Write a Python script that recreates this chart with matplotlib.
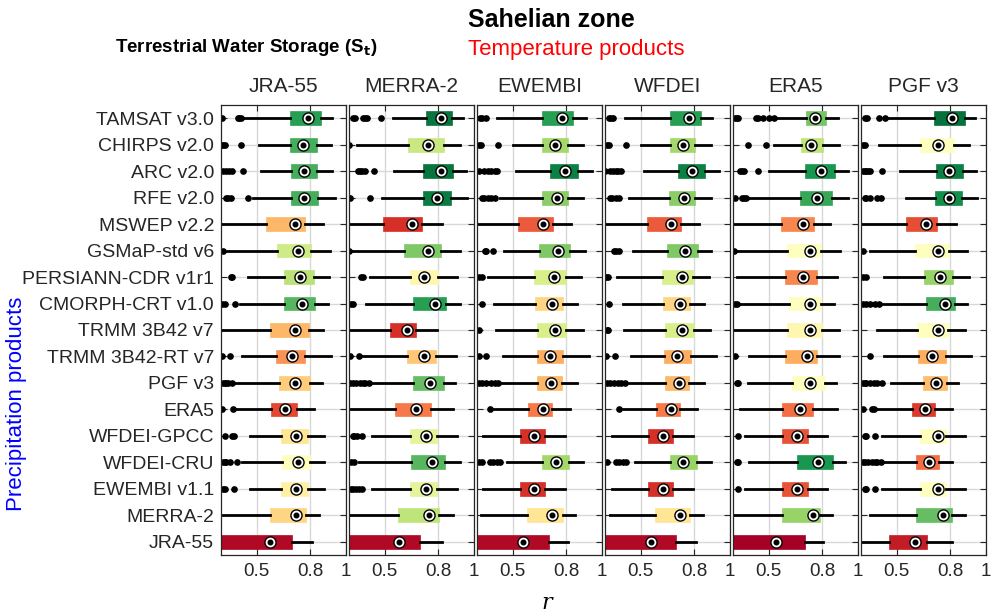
import numpy as np
import matplotlib
matplotlib.use('Agg')
import matplotlib.pyplot as plt

plt.rcParams['font.family'] = ['Liberation Sans', 'DejaVu Sans']

products = ['TAMSAT v3.0', 'CHIRPS v2.0', 'ARC v2.0', 'RFE v2.0', 'MSWEP v2.2',
            'GSMaP-std v6', 'PERSIANN-CDR v1r1', 'CMORPH-CRT v1.0', 'TRMM 3B42 v7',
            'TRMM 3B42-RT v7', 'PGF v3', 'ERA5', 'WFDEI-GPCC', 'WFDEI-CRU',
            'EWEMBI v1.1', 'MERRA-2', 'JRA-55']
temp_products = ['JRA-55', 'MERRA-2', 'EWEMBI', 'WFDEI', 'ERA5', 'PGF v3']

# (whisker low, q1, median, q3, whisker high) for each precipitation product
jra55 = [(0.424, 0.684, 0.787, 0.861, 0.921), (0.51, 0.688, 0.76, 0.838, 0.917),
         (0.525, 0.69, 0.762, 0.84, 0.923), (0.48, 0.694, 0.764, 0.843, 0.936),
         (0.29, 0.553, 0.714, 0.771, 0.87), (0.335, 0.616, 0.733, 0.804, 0.908),
         (0.45, 0.652, 0.741, 0.819, 0.904), (0.405, 0.652, 0.756, 0.828, 0.898),
         (0.29, 0.572, 0.714, 0.79, 0.87), (0.415, 0.61, 0.70, 0.771, 0.917),
         (0.36, 0.625, 0.714, 0.80, 0.866), (0.377, 0.582, 0.657, 0.724, 0.819),
         (0.464, 0.637, 0.722, 0.785, 0.876), (0.415, 0.644, 0.733, 0.80, 0.876),
         (0.464, 0.637, 0.722, 0.785, 0.876), (0.31, 0.576, 0.718, 0.777, 0.851),
         (0.2, 0.29, 0.572, 0.70, 0.807)]
merra2 = [(0.549, 0.733, 0.813, 0.878, 0.938), (0.344, 0.631, 0.743, 0.832, 0.923),
          (0.55, 0.714, 0.815, 0.885, 0.955), (0.487, 0.716, 0.794, 0.872, 0.96),
          (0.29, 0.489, 0.652, 0.709, 0.819), (0.29, 0.608, 0.743, 0.813, 0.923),
          (0.42, 0.642, 0.72, 0.796, 0.904), (0.395, 0.657, 0.781, 0.842, 0.92),
          (0.29, 0.527, 0.625, 0.676, 0.794), (0.36, 0.623, 0.718, 0.785, 0.90),
          (0.43, 0.66, 0.756, 0.83, 0.895), (0.29, 0.555, 0.676, 0.758, 0.88),
          (0.43, 0.642, 0.733, 0.794, 0.904), (0.354, 0.646, 0.762, 0.84, 0.923),
          (0.43, 0.642, 0.733, 0.794, 0.904), (0.29, 0.574, 0.747, 0.802, 0.88),
          (0.2, 0.29, 0.578, 0.70, 0.819)]
ewembi = [(0.41, 0.664, 0.774, 0.84, 0.909), (0.50, 0.666, 0.738, 0.81, 0.894),
          (0.517, 0.711, 0.792, 0.864, 0.943), (0.43, 0.666, 0.749, 0.808, 0.894),
          (0.29, 0.532, 0.67, 0.728, 0.828), (0.45, 0.649, 0.755, 0.821, 0.904),
          (0.362, 0.617, 0.73, 0.796, 0.885), (0.396, 0.625, 0.719, 0.779, 0.858),
          (0.404, 0.636, 0.734, 0.796, 0.894), (0.447, 0.636, 0.71, 0.783, 0.925),
          (0.44, 0.638, 0.715, 0.775, 0.858), (0.396, 0.587, 0.668, 0.72, 0.819),
          (0.334, 0.542, 0.62, 0.679, 0.792), (0.466, 0.666, 0.745, 0.817, 0.896),
          (0.334, 0.542, 0.62, 0.679, 0.792), (0.325, 0.581, 0.721, 0.781, 0.849),
          (0.2, 0.29, 0.557, 0.702, 0.811)]
wfdei = [(0.413, 0.664, 0.773, 0.837, 0.901), (0.50, 0.666, 0.736, 0.804, 0.892),
         (0.518, 0.71, 0.787, 0.861, 0.938), (0.432, 0.657, 0.741, 0.802, 0.892),
         (0.29, 0.535, 0.671, 0.727, 0.828), (0.454, 0.649, 0.747, 0.819, 0.892),
         (0.367, 0.62, 0.732, 0.795, 0.883), (0.40, 0.625, 0.719, 0.774, 0.857),
         (0.408, 0.634, 0.732, 0.797, 0.887), (0.448, 0.633, 0.704, 0.782, 0.92),
         (0.435, 0.638, 0.715, 0.773, 0.852), (0.40, 0.588, 0.669, 0.719, 0.815),
         (0.34, 0.54, 0.623, 0.679, 0.791), (0.469, 0.666, 0.736, 0.815, 0.892),
         (0.34, 0.54, 0.623, 0.679, 0.791), (0.33, 0.581, 0.721, 0.778, 0.848),
         (0.2, 0.29, 0.559, 0.70, 0.809)]
era5 = [(0.538, 0.709, 0.758, 0.819, 0.889), (0.528, 0.68, 0.739, 0.804, 0.893),
        (0.5, 0.703, 0.794, 0.87, 0.946), (0.386, 0.675, 0.771, 0.857, 0.946),
        (0.29, 0.568, 0.69, 0.756, 0.845), (0.31, 0.604, 0.731, 0.794, 0.898),
        (0.32, 0.589, 0.694, 0.768, 0.88), (0.339, 0.616, 0.73, 0.79, 0.864),
        (0.29, 0.604, 0.731, 0.80, 0.893), (0.39, 0.593, 0.714, 0.773, 0.895),
        (0.386, 0.629, 0.73, 0.813, 0.876), (0.339, 0.574, 0.673, 0.747, 0.883),
        (0.367, 0.572, 0.661, 0.718, 0.824), (0.39, 0.657, 0.775, 0.862, 0.927),
        (0.367, 0.572, 0.661, 0.718, 0.824), (0.29, 0.576, 0.749, 0.785, 0.857),
        (0.2, 0.29, 0.538, 0.701, 0.804)]
pgf = [(0.437, 0.706, 0.807, 0.88, 0.936), (0.40, 0.632, 0.733, 0.822, 0.903),
       (0.518, 0.719, 0.795, 0.869, 0.943), (0.554, 0.717, 0.791, 0.867, 0.948),
       (0.29, 0.554, 0.663, 0.724, 0.83), (0.35, 0.605, 0.733, 0.791, 0.894),
       (0.428, 0.65, 0.744, 0.813, 0.907), (0.415, 0.663, 0.769, 0.827, 0.894),
       (0.388, 0.614, 0.731, 0.788, 0.885), (0.43, 0.62, 0.697, 0.775, 0.918),
       (0.47, 0.648, 0.722, 0.782, 0.845), (0.388, 0.583, 0.659, 0.712, 0.807),
       (0.415, 0.632, 0.73, 0.778, 0.88), (0.419, 0.607, 0.679, 0.735, 0.807),
       (0.415, 0.632, 0.73, 0.778, 0.88), (0.352, 0.61, 0.759, 0.807, 0.88),
       (0.29, 0.455, 0.60, 0.668, 0.807)]

# outliers
jra55_out = [[0.306, 0.395, 0.40, 0.41], [0.30, 0.31, 0.32, 0.41], [0.31, 0.33, 0.345, 0.36, 0.424],
             [0.33, 0.34, 0.355, 0.45], [], [0.31], [0.355, 0.36], [0.305, 0.32, 0.38], [],
             [0.305, 0.348], [0.31, 0.32, 0.33, 0.34, 0.36], [0.307, 0.367], [0.32, 0.36, 0.37],
             [0.31, 0.32, 0.33, 0.35, 0.39], [0.31, 0.32, 0.37], [], []]
merra2_out = [[0.325, 0.335, 0.38, 0.39, 0.40, 0.477], [0.30], [0.35, 0.36, 0.375, 0.39, 0.44],
              [0.306, 0.42], [], [0.30], [0.365, 0.38], [0.31, 0.325], [], [0.306, 0.357],
              [0.306, 0.32, 0.34, 0.36, 0.38, 0.39, 0.41], [], [0.32, 0.33, 0.345, 0.37],
              [0.31, 0.33], [0.31, 0.32, 0.34, 0.355, 0.37], [], []]
ewembi_out = [[0.315, 0.33, 0.35], [0.31, 0.32, 0.415], [0.31, 0.34, 0.36, 0.38, 0.40, 0.41],
              [0.33, 0.34, 0.36, 0.38, 0.40], [], [0.345, 0.35, 0.39], [0.31, 0.33], [0.33],
              [0.31], [0.31, 0.35], [0.31, 0.33, 0.35, 0.38, 0.40, 0.42], [0.375], [],
              [0.31, 0.33, 0.37, 0.39, 0.41, 0.43], [], [], []]
wfdei_out = [[0.32, 0.335, 0.345], [0.31, 0.32, 0.419], [0.30, 0.33, 0.345, 0.36, 0.37, 0.39],
             [0.33, 0.34, 0.36, 0.38], [], [0.35, 0.36, 0.38], [0.305, 0.315], [0.32],
             [0.31, 0.315], [0.305, 0.355], [0.31, 0.33, 0.35, 0.37, 0.39, 0.41], [0.377], [],
             [0.31, 0.36, 0.38, 0.40, 0.42], [], [], []]
era5_out = [[0.31, 0.32, 0.33, 0.43, 0.44, 0.47, 0.50, 0.53], [0.386, 0.485], [0.34, 0.35, 0.36, 0.44],
            [0.31, 0.35, 0.36, 0.37], [], [0.305], [], [0.31, 0.32], [], [0.31], [0.32, 0.33], [],
            [0.33], [0.32, 0.33], [0.33], [], []]
pgf_out = [[0.32, 0.335, 0.40, 0.437], [0.31, 0.32], [0.31, 0.32, 0.33, 0.34, 0.35, 0.42],
           [0.32, 0.33, 0.35, 0.39, 0.41], [], [0.31], [0.31, 0.33], [0.31, 0.33, 0.35, 0.38, 0.40],
           [], [0.353], [0.31, 0.32, 0.33, 0.35, 0.37, 0.39, 0.42], [0.31, 0.36, 0.37],
           [0.32, 0.33, 0.38], [0.31, 0.32, 0.34, 0.36, 0.38, 0.39, 0.41], [0.32, 0.33, 0.38], [], []]

# performance score used for the box colour (0 = poor, 1 = good)
jra55_score = [0.88, 0.84, 0.84, 0.84, 0.32, 0.62, 0.66, 0.82, 0.32, 0.26, 0.36, 0.14, 0.42, 0.5, 0.45, 0.38, 0.02]
merra2_score = [0.97, 0.63, 0.97, 0.96, 0.1, 0.76, 0.47, 0.88, 0.1, 0.35, 0.8, 0.22, 0.57, 0.82, 0.57, 0.65, 0.02]
ewembi_score = [0.88, 0.7, 0.95, 0.74, 0.17, 0.76, 0.6, 0.38, 0.6, 0.3, 0.32, 0.22, 0.1, 0.7, 0.1, 0.42, 0.02]
wfdei_score = [0.88, 0.7, 0.95, 0.74, 0.17, 0.76, 0.6, 0.38, 0.6, 0.3, 0.32, 0.22, 0.1, 0.72, 0.1, 0.42, 0.02]
era5_score = [0.77, 0.65, 0.9, 0.86, 0.24, 0.5, 0.24, 0.5, 0.47, 0.3, 0.5, 0.2, 0.16, 0.9, 0.16, 0.72, 0.0]
pgf_score = [0.98, 0.5, 0.95, 0.92, 0.15, 0.5, 0.72, 0.84, 0.5, 0.3, 0.33, 0.12, 0.5, 0.2, 0.5, 0.8, 0.06]

panels = [(jra55, jra55_out, jra55_score), (merra2, merra2_out, merra2_score),
          (ewembi, ewembi_out, ewembi_score), (wfdei, wfdei_out, wfdei_score),
          (era5, era5_out, era5_score), (pgf, pgf_out, pgf_score)]

W, H = 996, 614
fig = plt.figure(figsize=(W / 100, H / 100), dpi=100)
cmap = plt.cm.RdYlGn
pos = np.arange(1, len(products) + 1)

for i, (stats, outs, score) in enumerate(panels):
    left = 221 + i * 128
    ax = fig.add_axes([left / W, 1 - 555 / H, 125 / W, 450 / H])
    bstats = []
    for s, o in zip(stats, outs):
        bstats.append(dict(whislo=s[0], q1=s[1], med=s[2], q3=s[3], whishi=s[4], fliers=o))
    bp = ax.bxp(bstats, positions=pos, orientation='horizontal', widths=0.52,
                patch_artist=True, showcaps=False,
                whiskerprops=dict(color='k', lw=2),
                medianprops=dict(lw=0),
                flierprops=dict(marker='o', markerfacecolor='k', markeredgecolor='k',
                                markersize=3.8))
    for box, sc in zip(bp['boxes'], score):
        box.set_facecolor(cmap(sc))
        box.set_edgecolor(cmap(sc))
        box.set_linewidth(0.5)
    meds = [s[2] for s in stats]
    ax.plot(meds, pos, 'o', mfc='white', mec='k', ms=8, mew=1, zorder=5)
    ax.plot(meds, pos, 'o', color='k', ms=3.3, zorder=6)

    ax.set_xlim(0.3, 1)
    ax.set_ylim(len(products) + 0.5, 0.5)
    ax.set_xticks([0.5, 0.8, 1])
    ax.set_xticklabels(['0.5', '0.8', '1'], fontsize=13.5, color='#262626')
    ax.set_yticks(pos)
    if i == 0:
        ax.set_yticklabels(products, fontsize=14, color='#262626')
    else:
        ax.set_yticklabels([])
    ax.set_axisbelow(True)
    ax.grid(True, color='#d8d8d8', lw=1)
    ax.tick_params(direction='in', length=4, width=0.8, top=True, right=True,
                   colors='#262626', pad=6)
    ax.tick_params(axis='y', pad=5)
    for sp in ax.spines.values():
        sp.set_color('#262626')
        sp.set_linewidth(0.9)
    ax.text(0.5, 1 + 19 / 450, temp_products[i], transform=ax.transAxes,
            ha='center', va='center', fontsize=15, color='#262626')

fig.text(468 / W, 1 - 20 / H, 'Sahelian zone', fontsize=18, fontweight='bold',
         ha='left', va='center')
fig.text(468 / W, 1 - 50 / H, 'Temperature products', fontsize=16, color='red',
         ha='left', va='center')
fig.text(115 / W, 1 - 47 / H, r'Terrestrial Water Storage (S$_\mathbf{t}$)', fontsize=13.5,
         fontweight='bold', ha='left', va='center')
fig.text(17 / W, 1 - 404 / H, 'Precipitation products', fontsize=16, color='blue',
         rotation=90, ha='center', va='center')
fig.text(547 / W, 1 - 603 / H, 'r', fontsize=16, style='italic', family='DejaVu Serif',
         ha='center', va='center')

fig.savefig('out.png', dpi=100)
